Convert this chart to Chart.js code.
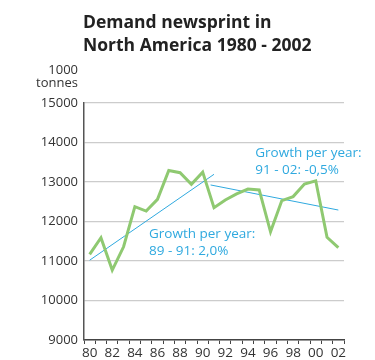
<!DOCTYPE html>
<html lang="en">
  <head>
    <meta charset="UTF-8" />
    <title>Demand newsprint in North America 1980 - 2002</title>
    <script src="https://cdn.jsdelivr.net/npm/chart.js"></script>
    <style>
      html, body { margin: 0; padding: 0; background: #fff; }
      #wrap { width: 375px; height: 360px; position: relative; }
    </style>
  </head>
  <body>
    <div id="wrap"><canvas id="demandChart"></canvas></div>

    <script>
      // years 1980 - 2002, shown as two-digit labels
      const years = ["80", "81", "82", "83", "84", "85", "86", "87", "88", "89", "90", "91",
                     "92", "93", "94", "95", "96", "97", "98", "99", "00", "01", "02"];
      // demand, 1000 tonnes
      const demand = [11170, 11590, 10770, 11360, 12375, 12265, 12560, 13290, 13235, 12940, 13250, 12350,
                      12545, 12700, 12820, 12800, 11740, 12530, 12630, 12950, 13030, 11600, 11340];
      // trend lines: [start index, start value, end index, end value]
      const trendUp = [0, 11020, 11, 13195];
      const trendDown = [10.7, 12925, 22, 12290];

      const titleLines = ["Demand newsprint in", "North America 1980 - 2002"];
      const unitLines = ["1000", "tonnes"];
      const noteUp = ["Growth per year:", "89 - 91: 2,0%"];
      const noteDown = ["Growth per year:", "91 - 02: -0,5%"];

      const blue = "#2fa9df";
      const green = "#8fc971";
      const font = '"Open Sans", sans-serif';

      // title, unit and the two notes
      const textPlugin = {
        id: "texts",
        afterDraw(chart) {
          const ctx = chart.ctx;
          const area = chart.chartArea;
          const x2 = chart.scales.x2;
          const y = chart.scales.y;
          ctx.save();
          ctx.textAlign = "left";
          ctx.textBaseline = "alphabetic";
          ctx.fillStyle = "#222";
          ctx.font = "bold 17.5px " + font;
          titleLines.forEach((t, i) => ctx.fillText(t, area.left - 1, 28 + i * 23));

          ctx.font = "13px " + font;
          ctx.fillStyle = "#333";
          ctx.textAlign = "right";
          unitLines.forEach((t, i) => ctx.fillText(t, area.left - 6, 74 + i * 13));

          ctx.font = "13.5px " + font;
          ctx.textAlign = "left";
          ctx.textBaseline = "middle";
          ctx.fillStyle = blue;
          noteUp.forEach((t, i) => ctx.fillText(t, x2.getPixelForValue(5.25), y.getPixelForValue(11690) + i * 17));
          noteDown.forEach((t, i) => ctx.fillText(t, x2.getPixelForValue(14.65), y.getPixelForValue(13740) + i * 17));
          ctx.restore();
        }
      };

      const ctx = document.getElementById("demandChart").getContext("2d");
      const chart = new Chart(ctx, {
        type: "line",
        data: {
          labels: years,
          datasets: [
            {
              label: "Demand",
              data: demand,
              borderColor: green,
              borderWidth: 3,
              pointRadius: 0,
              tension: 0,
              fill: false
            },
            {
              label: "Trend 80-91",
              xAxisID: "x2",
              data: [{ x: trendUp[0], y: trendUp[1] }, { x: trendUp[2], y: trendUp[3] }],
              borderColor: blue,
              borderWidth: 1,
              pointRadius: 0
            },
            {
              label: "Trend 91-02",
              xAxisID: "x2",
              data: [{ x: trendDown[0], y: trendDown[1] }, { x: trendDown[2], y: trendDown[3] }],
              borderColor: blue,
              borderWidth: 1,
              pointRadius: 0
            }
          ]
        },
        options: {
          responsive: true,
          maintainAspectRatio: false,
          animation: false,
          layout: { padding: { top: 103, right: 31, bottom: 0, left: 0 } },
          plugins: {
            legend: { display: false },
            title: { display: false },
            tooltip: { enabled: false }
          },
          scales: {
            x: {
              type: "category",
              offset: true,
              border: { color: "#444", width: 1.5 },
              grid: {
                offset: true,
                drawOnChartArea: false,
                drawTicks: true,
                tickLength: 4,
                color: "#444"
              },
              ticks: {
                autoSkip: false,
                maxRotation: 0,
                padding: 1,
                color: "#333",
                font: { family: font, size: 13.5 },
                callback: function (value, index) {
                  return index % 2 === 0 ? years[index] : "";
                }
              },
              afterFit: function (scale) { scale.height = 20; }
            },
            x2: {
              type: "linear",
              display: false,
              min: -0.5,
              max: years.length - 0.5
            },
            y: {
              min: 9000,
              max: 15000,
              border: { color: "#555", width: 1.5 },
              grid: { color: "#ccc", lineWidth: 1.2, drawTicks: false },
              ticks: {
                stepSize: 1000,
                padding: 6,
                color: "#333",
                font: { family: font, size: 13 },
                callback: (v) => String(v)
              },
              afterFit: function (scale) { scale.width = 84; }
            }
          }
        },
        plugins: [textPlugin]
      });
    </script>
  </body>
</html>
